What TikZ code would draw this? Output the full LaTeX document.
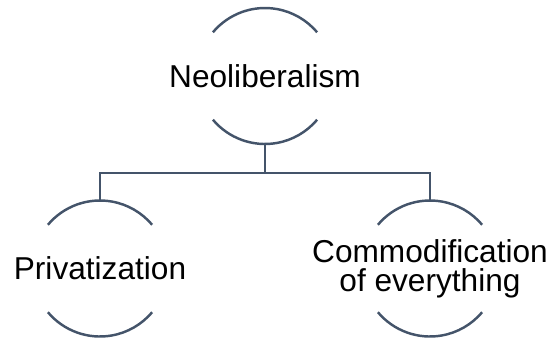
\documentclass[tikz,border=0pt]{standalone}
\usepackage{fontspec}
\setmainfont{Liberation Sans}
\usepackage{tikz}
\definecolor{slate}{HTML}{44546A}

\begin{document}
\begin{tikzpicture}[scale=1,
  label/.style={align=center,inner sep=0pt,font=\fontsize{18}{16.4}\selectfont},
  rim/.style={draw=slate,line width=1.4pt},
  link/.style={draw=slate,line width=1.4pt}]
\useasboundingbox (0,0) rectangle (11,6.74);

% the three labels
\node[label] (neo) at (5.3,5.22) {Neoliberalism};
\node[label] (priv) at (2.0,1.37) {Privatization};
\node[label] (comm) at (8.6,1.37) {Commodification\\of everything};

% broken circles round them
\foreach \n in {neo,priv,comm}{
  \draw[rim] (\n.center) ++(140:1.36) arc[start angle=140,end angle=40,radius=1.36];
  \draw[rim] (\n.center) ++(220:1.36) arc[start angle=220,end angle=320,radius=1.36];
}

% tree
\coordinate (neobot) at ([yshift=-1.36cm]neo.center);
\coordinate (privtop) at ([yshift=1.36cm]priv.center);
\coordinate (commtop) at ([yshift=1.36cm]comm.center);
\coordinate (fork) at (5.3,3.28);
\draw[link] (neobot) -- (fork);
\draw[link] (fork) -| (privtop);
\draw[link] (fork) -| (commtop);

\end{tikzpicture}
\end{document}
